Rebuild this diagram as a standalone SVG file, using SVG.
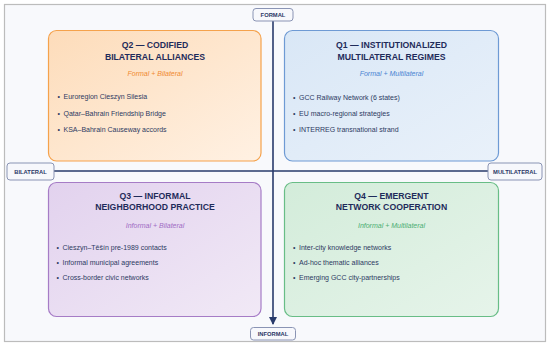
<svg xmlns="http://www.w3.org/2000/svg" width="550" height="349" viewBox="0 0 550 349">
  <defs>
    <linearGradient id="gQ2" x1="0" y1="0" x2="1" y2="1">
      <stop offset="0" stop-color="#fddcba"/>
      <stop offset="1" stop-color="#fff1e3"/>
    </linearGradient>
    <linearGradient id="gQ1" x1="0" y1="0" x2="1" y2="1">
      <stop offset="0" stop-color="#d9e7f6"/>
      <stop offset="1" stop-color="#e9f1fa"/>
    </linearGradient>
    <linearGradient id="gQ3" x1="0" y1="0" x2="1" y2="1">
      <stop offset="0" stop-color="#e2d2ee"/>
      <stop offset="1" stop-color="#f1e9f6"/>
    </linearGradient>
    <linearGradient id="gQ4" x1="0" y1="0" x2="1" y2="1">
      <stop offset="0" stop-color="#d3ecda"/>
      <stop offset="1" stop-color="#e6f4ea"/>
    </linearGradient>
    <marker id="arrow" markerWidth="8" markerHeight="8" refX="7" refY="4" orient="auto" markerUnits="userSpaceOnUse">
      <path d="M0,0 L8,4 L0,8 Z" fill="#283a6b"/>
    </marker>
  </defs>
  <style>
    text { font-family: "Liberation Sans", Arial, sans-serif; }
    .title { font-size: 8.7px; font-weight: bold; fill: #1f2b5a; text-anchor: middle; }
    .sub { font-size: 7px; font-style: italic; text-anchor: middle; }
    .item { font-size: 7px; fill: #2d3a62; }
    .axlabel { fill: #f7f8fc; stroke: #8a94b4; stroke-width: 1; }
    .axtext { font-size: 5.8px; font-weight: bold; fill: #2a3766; text-anchor: middle; }
    .axis { stroke: #283a6b; stroke-width: 1.6; fill: none; }
  </style>

  <rect x="4.5" y="4.5" width="541" height="337" fill="#f8f9fc" stroke="#bcbcbc" stroke-width="1.2"/>

  <g id="q2">
    <rect x="48.5" y="30.5" width="212.5" height="130.5" rx="8" fill="url(#gQ2)" stroke="#f5a24c" stroke-width="1.2"/>
    <text class="title" x="155" y="48.3">Q2 — CODIFIED</text>
    <text class="title" x="155" y="60">BILATERAL ALLIANCES</text>
    <text class="sub" x="155" y="76" fill="#f08a30">Formal + Bilateral</text>
    <text class="item" x="57.5" y="99">•</text><text class="item" x="63.5" y="99">Euroregion Cieszyn Silesia</text>
    <text class="item" x="57.5" y="115.7">•</text><text class="item" x="63.5" y="115.7">Qatar–Bahrain Friendship Bridge</text>
    <text class="item" x="57.5" y="132.3">•</text><text class="item" x="63.5" y="132.3">KSA–Bahrain Causeway accords</text>
  </g>

  <g id="q1">
    <rect x="284.5" y="30.5" width="214" height="130.5" rx="8" fill="url(#gQ1)" stroke="#6e9ad4" stroke-width="1.2"/>
    <text class="title" x="391.5" y="48.3">Q1 — INSTITUTIONALIZED</text>
    <text class="title" x="391.5" y="60">MULTILATERAL REGIMES</text>
    <text class="sub" x="391.5" y="76" fill="#4a84d2">Formal + Multilateral</text>
    <text class="item" x="293" y="100">•</text><text class="item" x="299" y="100">GCC Railway Network (6 states)</text>
    <text class="item" x="293" y="116">•</text><text class="item" x="299" y="116">EU macro-regional strategies</text>
    <text class="item" x="293" y="132">•</text><text class="item" x="299" y="132">INTERREG transnational strand</text>
  </g>

  <g id="q3">
    <rect x="48.5" y="182.5" width="212.5" height="134" rx="8" fill="url(#gQ3)" stroke="#a67cc6" stroke-width="1.2"/>
    <text class="title" x="155" y="198.7">Q3 — INFORMAL</text>
    <text class="title" x="155" y="210.3">NEIGHBORHOOD PRACTICE</text>
    <text class="sub" x="155" y="227.7" fill="#a06cc4">Informal + Bilateral</text>
    <text class="item" x="56.5" y="250">•</text><text class="item" x="62.5" y="250">Cieszyn–Těšín pre-1989 contacts</text>
    <text class="item" x="56.5" y="265.3">•</text><text class="item" x="62.5" y="265.3">Informal municipal agreements</text>
    <text class="item" x="56.5" y="280">•</text><text class="item" x="62.5" y="280">Cross-border civic networks</text>
  </g>

  <g id="q4">
    <rect x="284.5" y="182.5" width="214" height="134" rx="8" fill="url(#gQ4)" stroke="#68bd86" stroke-width="1.2"/>
    <text class="title" x="391.5" y="198.7">Q4 — EMERGENT</text>
    <text class="title" x="391.5" y="210.3">NETWORK COOPERATION</text>
    <text class="sub" x="391.5" y="227.7" fill="#4cae72">Informal + Multilateral</text>
    <text class="item" x="293" y="250">•</text><text class="item" x="299" y="250">Inter-city knowledge networks</text>
    <text class="item" x="293" y="265.3">•</text><text class="item" x="299" y="265.3">Ad-hoc thematic alliances</text>
    <text class="item" x="293" y="280">•</text><text class="item" x="299" y="280">Emerging GCC city-partnerships</text>
  </g>

  <g id="connectors">
    <line class="axis" x1="54" y1="171" x2="488" y2="171"/>
    <line class="axis" x1="273" y1="21" x2="273" y2="324" marker-end="url(#arrow)"/>
  </g>

  <g id="axis-formal">
    <rect class="axlabel" x="253" y="8.5" width="40" height="12.5" rx="3"/>
    <text class="axtext" x="273" y="17">FORMAL</text>
  </g>
  <g id="axis-informal">
    <rect class="axlabel" x="250.5" y="327.5" width="45" height="12.5" rx="3"/>
    <text class="axtext" x="273" y="336">INFORMAL</text>
  </g>
  <g id="axis-bilateral">
    <rect class="axlabel" x="7" y="163" width="47" height="17" rx="3"/>
    <text class="axtext" x="30.5" y="173.5">BILATERAL</text>
  </g>
  <g id="axis-multilateral">
    <rect class="axlabel" x="488" y="163" width="54" height="17" rx="3"/>
    <text class="axtext" x="515" y="173.5">MULTILATERAL</text>
  </g>
</svg>
